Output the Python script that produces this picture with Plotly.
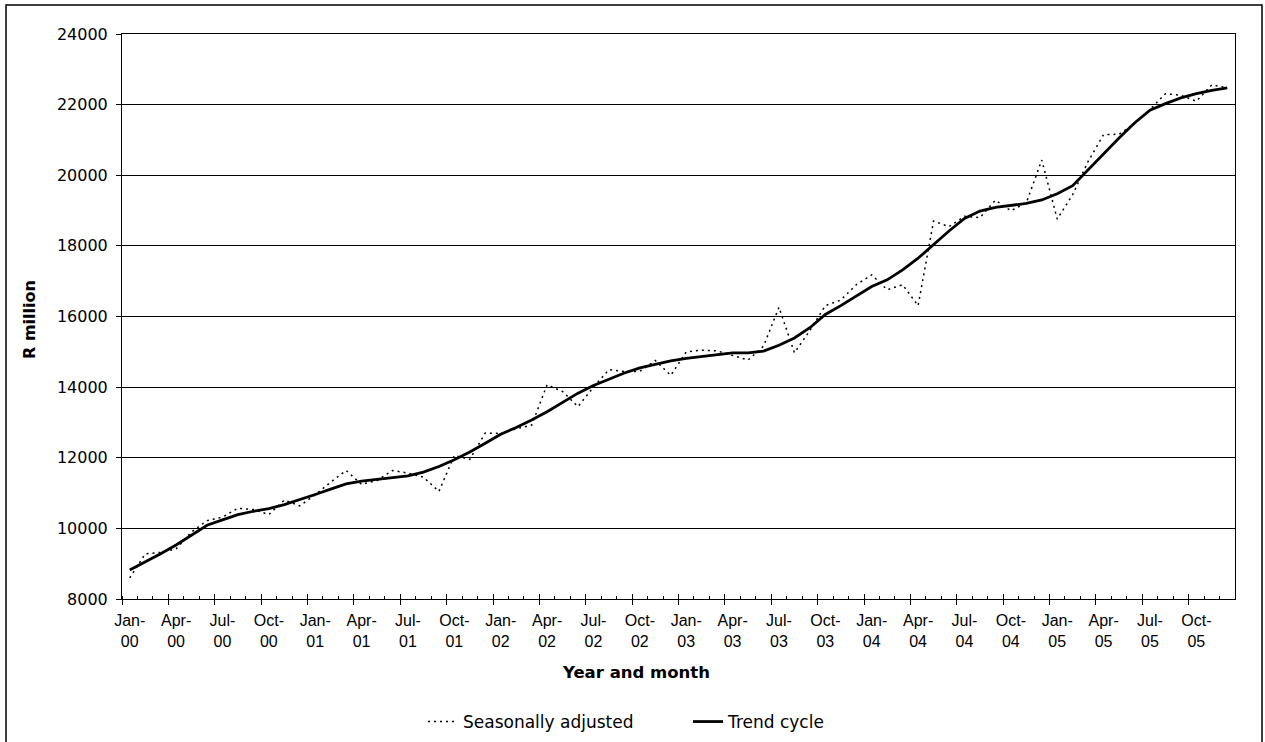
import plotly.graph_objects as go

# ---- data ----
months = ["Jan", "Feb", "Mar", "Apr", "May", "Jun", "Jul", "Aug", "Sep", "Oct", "Nov", "Dec"]
years = ["00", "01", "02", "03", "04", "05"]
categories = [f"{m}-{y}" for y in years for m in months]

seasonally_adjusted = [
    8596, 9280, 9320, 9420, 9900, 10220, 10316, 10571, 10533, 10391, 10800, 10638,
    10950, 11310, 11640, 11243, 11357, 11640, 11565, 11451, 11045, 12066, 11953, 12700,
    12686, 12819, 12924, 14067, 13876, 13448, 14000, 14495, 14438, 14448, 14752, 14333,
    15000, 15047, 15028, 14907, 14766, 15159, 16262, 14972, 15607, 16308, 16467, 16900,
    17180, 16757, 16900, 16306, 18703, 18543, 18837, 18800, 19295, 18994, 19220, 20430,
    18759, 19450, 20393, 21150, 21160, 21460, 21860, 22310, 22265, 22094, 22560, 22480,
]
trend_cycle = [
    8823, 9040, 9280, 9530, 9815, 10090, 10240, 10390, 10485, 10560, 10675, 10810,
    10960, 11110, 11262, 11338, 11395, 11442, 11489, 11593, 11754, 11943, 12161, 12410,
    12667, 12857, 13067, 13305, 13571, 13829, 14048, 14229, 14400, 14543, 14638, 14740,
    14813, 14869, 14935, 14972, 14972, 15019, 15187, 15393, 15682, 16056, 16308, 16580,
    16851, 17039, 17321, 17650, 18038, 18421, 18778, 18985, 19088, 19154, 19201, 19300,
    19475, 19704, 20157, 20630, 21055, 21480, 21840, 22028, 22189, 22312, 22406, 22473,
]
label_months = ["Jan", "Apr", "Jul", "Oct"]
y_ticks = [8000, 10000, 12000, 14000, 16000, 18000, 20000, 22000, 24000]

# ---- derived ----
idx = list(range(len(categories)))
label_idx = [i for i, c in enumerate(categories) if c.split("-")[0] in label_months]
label_text = [categories[i].replace("-", "-<br>") for i in label_idx]
major_bounds = [i - 0.5 for i in label_idx]
all_bounds = [i - 0.5 for i in range(len(categories) + 1)]

W, H = 1265, 742
L, R, T, B = 122, 1235, 34, 599
pw, ph = R - L, B - T


def px_x(p):
    return (p - L) / pw


def px_y(p):
    return (B - p) / ph


fig = go.Figure()
fig.add_trace(go.Scatter(
    x=idx, y=seasonally_adjusted, mode="lines", name="Seasonally adjusted",
    line=dict(color="black", width=1.5, dash="2px,4px"),
))
fig.add_trace(go.Scatter(
    x=idx, y=trend_cycle, mode="lines", name="Trend cycle",
    line=dict(color="black", width=2.8),
))
# helper axes carrying the crossing major tick marks
fig.add_trace(go.Scatter(x=[0], y=[None], xaxis="x2", showlegend=False,
                         hoverinfo="skip", mode="lines"))
fig.add_trace(go.Scatter(x=[0], y=[None], xaxis="x3", showlegend=False,
                         hoverinfo="skip", mode="lines"))

rng = [-0.5, len(categories) - 0.5]
tick_axis = dict(
    range=rng, overlaying="x", anchor="y", side="bottom",
    tickmode="array", tickvals=major_bounds, ticktext=["" for _ in major_bounds],
    ticklen=5, tickcolor="black", showgrid=False, zeroline=False,
    showline=False, showticklabels=False,
)
fig.update_layout(
    width=W, height=H,
    margin=dict(l=L, r=W - R, t=T, b=H - B, autoexpand=False),
    paper_bgcolor="white", plot_bgcolor="white",
    font=dict(family="Liberation Sans, Arial, sans-serif", color="black"),
    showlegend=True,
    legend=dict(
        orientation="h", x=px_x(423), xanchor="left", y=px_y(722), yanchor="middle",
        font=dict(family="DejaVu Sans", size=17), entrywidth=220, entrywidthmode="pixels",
        bgcolor="rgba(0,0,0,0)",
    ),
    xaxis=dict(
        range=rng, tickmode="array", tickvals=label_idx, ticktext=label_text,
        ticks="", ticklabelstandoff=7, tickfont=dict(family="Liberation Sans", size=16),
        showgrid=False, zeroline=False, showline=True, linecolor="black", linewidth=1,
        mirror=True, automargin=False,
        minor=dict(tickmode="array", tickvals=all_bounds, ticks="inside", ticklen=3,
                   tickcolor="black", showgrid=False),
    ),
    xaxis2=dict(tick_axis, ticks="outside"),
    xaxis3=dict(tick_axis, ticks="inside"),
    yaxis=dict(
        range=[y_ticks[0], y_ticks[-1]], tickmode="array", tickvals=y_ticks,
        ticktext=[str(v) for v in y_ticks],
        ticks="outside", ticklen=5, tickcolor="black", ticklabelstandoff=5,
        tickfont=dict(family="DejaVu Sans", size=16), automargin=False,
        showgrid=True, gridcolor="black", gridwidth=1, zeroline=False,
        showline=True, linecolor="black", linewidth=1, mirror=True,
    ),
    annotations=[
        dict(text="<b>Year and month</b>", x=px_x(636), y=px_y(672), xref="paper", yref="paper",
             showarrow=False, xanchor="center", yanchor="middle",
             font=dict(family="DejaVu Sans", size=16.5)),
        dict(text="<b>R million</b>", x=px_x(29), y=px_y(320), xref="paper", yref="paper",
             showarrow=False, xanchor="center", yanchor="middle", textangle=-90,
             font=dict(family="DejaVu Sans", size=16)),
    ],
    shapes=[
        dict(type="rect", xref="paper", yref="paper",
             x0=px_x(6), x1=px_x(1262), y0=px_y(746), y1=px_y(5),
             line=dict(color="black", width=1.5), fillcolor="rgba(0,0,0,0)", layer="below"),
    ],
)

fig.write_html("out.html", config={"displayModeBar": False},
               post_script="document.body.style.margin='0';")
